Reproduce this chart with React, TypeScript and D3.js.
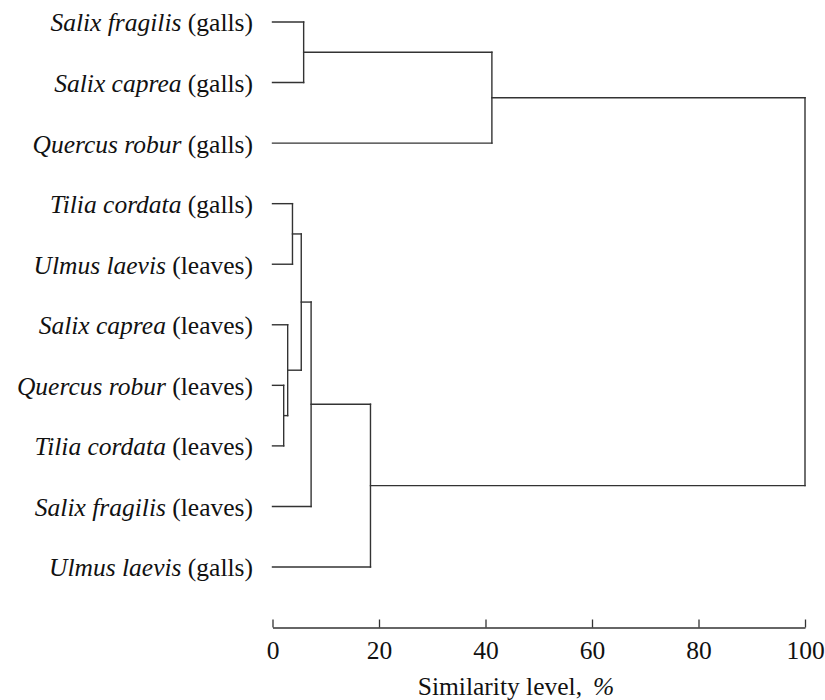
import React, { useEffect, useRef } from "react";
import * as d3 from "d3";

// Leaves (top to bottom): species (italic) and part
const leafSpecies = [
  "Salix fragilis",
  "Salix caprea",
  "Quercus robur",
  "Tilia cordata",
  "Ulmus laevis",
  "Salix caprea",
  "Quercus robur",
  "Tilia cordata",
  "Salix fragilis",
  "Ulmus laevis",
];
const leafParts = [
  "galls",
  "galls",
  "galls",
  "galls",
  "leaves",
  "leaves",
  "leaves",
  "leaves",
  "leaves",
  "galls",
];

// Merges: leaves are 0..9, each merge creates node 10 + index
const mergeLeft = [6, 5, 3, 12, 0, 13, 15, 14, 17];
const mergeRight = [7, 10, 4, 11, 1, 8, 9, 2, 16];
const mergeHeight = [2.1, 2.85, 3.75, 5.4, 5.85, 7.25, 18.4, 41.2, 100];

const xTicks = [0, 20, 40, 60, 80, 100];
const xTitle = "Similarity level,";
const xTitleUnit = "%";

const W = 825;
const H = 700;
const FONT = "'Liberation Serif', 'Times New Roman', serif";
const FS = 25.5;

export default function App() {
  const axisRef = useRef<SVGGElement>(null);

  const x = d3.scaleLinear().domain([0, 100]).range([272.5, 805]);
  const leafIds = leafSpecies.map((_, i) => String(i));
  const y = d3.scalePoint<string>().domain(leafIds).range([22, 567]);

  // node positions
  const nodeY: number[] = leafIds.map((id) => y(id) as number);
  const nodeH: number[] = leafIds.map(() => 0);
  mergeLeft.forEach((l, i) => {
    const r = mergeRight[i];
    nodeY.push((nodeY[l] + nodeY[r]) / 2);
    nodeH.push(mergeHeight[i]);
  });

  useEffect(() => {
    document.body.style.margin = "0";
    if (axisRef.current) {
      const g = d3.select(axisRef.current);
      g.call(
        d3
          .axisBottom(x)
          .tickValues(xTicks)
          .tickSizeInner(-8)
          .tickSizeOuter(0)
          .tickPadding(13)
          .tickFormat(d3.format("d"))
      );
      g.select(".domain").attr("stroke", "#333").attr("stroke-width", 1.4);
      g.selectAll(".tick line").attr("stroke", "#333").attr("stroke-width", 1.3);
      g.selectAll(".tick text")
        .attr("fill", "#111")
        .attr("font-family", FONT)
        .attr("font-size", FS);
    }
  }, []);

  const lines: React.ReactElement[] = [];
  mergeLeft.forEach((l, i) => {
    const r = mergeRight[i];
    const hx = x(mergeHeight[i]);
    const key = `m${i}`;
    lines.push(
      <line key={key + "v"} x1={hx} x2={hx} y1={nodeY[l]} y2={nodeY[r]} />
    );
    lines.push(
      <line key={key + "l"} x1={x(nodeH[l])} x2={hx} y1={nodeY[l]} y2={nodeY[l]} />
    );
    lines.push(
      <line key={key + "r"} x1={x(nodeH[r])} x2={hx} y1={nodeY[r]} y2={nodeY[r]} />
    );
  });

  return (
    <svg width={W} height={H} style={{ display: "block", background: "#fff" }}>
      <g stroke="#333" strokeWidth={1.4} strokeLinecap="square" fill="none">
        {lines}
      </g>
      <g fontFamily={FONT} fontSize={FS} fill="#111">
        {leafIds.map((id, i) => (
          <text key={id} x={253} y={y(id)} dy="0.37em" textAnchor="end">
            <tspan fontStyle="italic">{leafSpecies[i]}</tspan>
            <tspan>{` (${leafParts[i]})`}</tspan>
          </text>
        ))}
      </g>
      <g ref={axisRef} transform="translate(0,627.5)" />
      <text
        x={516}
        y={695}
        textAnchor="middle"
        fontFamily={FONT}
        fontSize={FS}
        fill="#111"
      >
        <tspan>{xTitle}</tspan>
        <tspan dx={11} fontStyle="italic">{xTitleUnit}</tspan>
      </text>
    </svg>
  );
}
